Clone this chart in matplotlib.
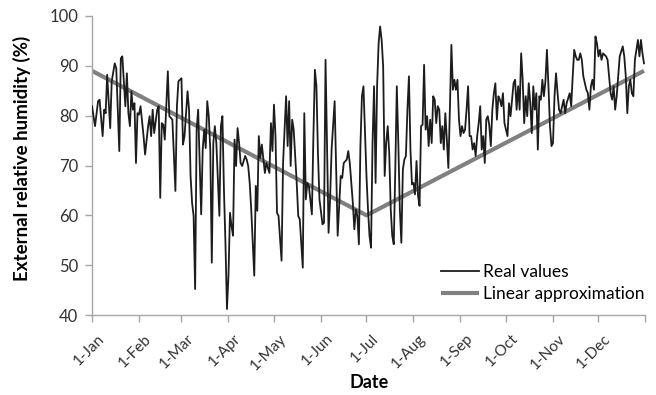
import datetime as dt

import matplotlib
matplotlib.use("Agg")
import matplotlib.pyplot as plt
from matplotlib.transforms import ScaledTranslation

plt.rcParams["font.family"] = ["Lato", "DejaVu Sans"]

# ---- data -------------------------------------------------------------
year_start = dt.date(2010, 1, 1)

# day of the year (0 = 1 January) of each reading
day_of_year = [
    0, 2, 4, 5, 7, 8, 9, 10, 12, 13, 15, 16, 17, 18, 19, 20, 22, 23, 24, 25,
    26, 27, 28, 29, 30, 31, 32, 34, 35, 37, 38, 39, 40, 41, 43, 44, 45, 46, 47, 48,
    50, 51, 53, 55, 56, 57,
    58, 59, 60, 61, 63, 64, 65, 66, 67, 68, 69, 70, 72, 73, 74, 75, 76, 77, 78, 79,
    80, 81, 82, 84, 85, 86, 87, 88, 89, 90, 91, 92, 93, 94, 95, 96, 97, 98, 99, 101,
    102, 103, 104, 105, 107, 108, 109, 110,
    111, 112, 114, 115, 117, 118, 119, 120, 121, 122, 123, 125, 126, 128, 129, 130,
    131, 132, 133, 134, 135, 136, 137, 139, 140, 141, 142, 143, 145, 146, 147, 148,
    149, 150, 152, 153, 154, 156, 157, 158, 160, 162, 163, 164, 165, 166, 168, 169,
    170, 172, 173, 174, 175, 176,
    177, 178, 179, 181, 182, 183, 184, 185, 186, 187, 188, 189, 190, 191, 192, 193,
    194, 195, 196, 197, 198, 199, 200, 201, 202, 203, 204, 205, 206, 207, 208, 209,
    210, 211, 212, 213, 214, 215, 216, 217, 218, 219, 220, 221, 222, 223, 224, 225,
    226, 227, 228,
    229, 230, 231, 232, 233, 234, 235, 236, 237, 238, 239, 240, 241, 242, 243, 244,
    245, 246, 247, 248, 249, 250, 251, 252, 253, 254, 255, 256, 257, 258, 259, 260,
    261, 262, 263, 264, 265, 266, 267, 268, 269, 270, 271, 272, 273, 274, 275, 276,
    277, 278, 279, 280, 281, 282, 283, 284, 285, 286, 287,
    288, 289, 290, 291, 292, 293, 294, 295, 296, 297, 298, 299, 300, 301, 302, 303,
    304, 305, 306, 307, 308, 309, 310, 311, 312, 313, 315, 316, 317, 318, 319, 320,
    321, 322, 323, 324, 326, 327, 328, 329, 330, 331, 332, 333, 334, 335, 336, 337,
    339, 340, 341, 342, 343, 344, 345, 346, 347, 348, 350, 351, 352, 353, 354, 355,
    356, 357, 358, 360, 361, 362, 363, 364,
]

# measured external relative humidity (%)
humidity = [
    81.9, 77.9, 82.9, 83.2, 75.9, 81.2, 80.5, 88.2, 77.5, 86.9, 90.5, 89.5, 81.2, 72.9, 91.5, 91.9, 81.9, 88.5, 80.5, 77.9,
    84.9, 81.2, 82.5, 70.5, 80.5, 80.2, 81.9, 75.9, 72.2, 77.9, 79.9, 75.9, 81.2, 76.5, 81.2, 81.9, 63.5, 78.5, 78.2, 75.2,
    88.9, 79.9, 79.2, 64.9, 81.9, 86.9,
    87.2, 87.5, 74.2, 75.9, 84.9, 81.2, 67.9, 62.5, 59.9, 45.2, 77.2, 81.2, 60.2, 73.2, 77.2, 73.5, 82.9, 79.9, 73.2, 50.5,
    74.5, 77.9, 74.5, 59.9, 77.9, 79.9, 65.2, 54.5, 41.2, 47.9, 60.5, 57.9, 55.9, 75.2, 69.9, 77.5, 74.5, 70.5, 69.9, 71.9,
    71.2, 69.9, 66.5, 61.2, 47.9, 65.9, 60.9, 75.9,
    71.5, 74.2, 68.5, 70.5, 68.5, 78.5, 72.9, 82.2, 75.9, 60.5, 59.9, 50.9, 70.5, 83.9, 73.9, 82.9,
    69.9, 79.2, 77.2, 71.9, 66.5, 59.9, 59.2, 49.5, 80.5, 63.2, 66.5, 65.9, 60.2, 75.9, 89.2, 85.9,
    72.5, 63.2, 58.2, 58.5, 91.2, 56.5, 63.2, 73.2, 82.9, 55.9, 61.9, 67.9, 67.5, 70.5, 71.2, 72.9,
    70.5, 62.5, 57.2, 61.2, 59.9, 54.2,
    73.9, 83.9, 85.9, 67.9, 61.2, 55.9, 53.5, 74.5, 85.9, 66.5, 85.9, 94.5, 97.9, 95.2, 89.9, 67.9,
    74.5, 77.9, 72.5, 61.2, 55.9, 54.2, 69.2, 85.9, 74.5, 61.2, 54.5, 69.2, 71.2, 71.9, 81.2, 87.9,
    73.2, 66.2, 66.5, 64.2, 70.9, 63.9, 61.9, 77.9, 78.2, 90.2, 77.2, 79.9, 73.9, 79.2, 74.5, 83.9,
    83.2, 78.5, 81.9,
    81.2, 74.5, 77.9, 73.2, 80.5, 75.2, 69.5, 81.2, 94.2, 85.2, 87.2, 85.2, 87.2, 79.2, 75.9, 77.9,
    76.5, 77.2, 81.2, 85.9, 75.9, 75.9, 73.2, 74.5, 71.9, 75.9, 78.5, 81.9, 73.2, 75.9, 70.5, 79.2,
    79.9, 78.0, 73.9, 81.2, 84.5, 86.5, 79.2, 83.9, 83.2, 81.9, 84.5, 78.5, 77.2, 75.9, 82.5, 79.9,
    83.2, 86.5, 87.2, 81.2, 85.9, 81.2, 92.5, 87.2, 78.5, 83.9, 79.9,
    86.5, 82.5, 76.5, 85.9, 81.2, 84.5, 73.2, 83.9, 83.2, 87.2, 83.9, 86.9, 93.2, 85.9, 77.9, 73.9,
    74.5, 83.9, 88.5, 84.5, 81.2, 80.5, 81.9, 83.2, 80.5, 82.5, 84.5, 81.9, 87.9, 93.2, 91.9, 91.2,
    91.2, 92.5, 91.2, 87.9, 85.2, 84.5, 81.2, 85.9, 87.2, 85.2, 95.9, 94.5, 91.9, 93.2, 91.2, 92.5,
    91.9, 91.2, 87.9, 84.5, 83.2, 85.9, 81.2, 83.9, 87.9, 91.9, 93.9, 91.9, 87.9, 80.5, 85.9, 87.2,
    84.5, 83.9, 91.2, 95.2, 91.9, 95.2, 92.5, 90.5,
]

# two-segment linear approximation
trend_days = [0, 181, 364]
trend_values = [89, 60, 89]

month_labels = ["1-Jan", "1-Feb", "1-Mar", "1-Apr", "1-May", "1-Jun",
                "1-Jul", "1-Aug", "1-Sep", "1-Oct", "1-Nov", "1-Dec"]

# ---- figure -----------------------------------------------------------
W, H = 656, 395
fig = plt.figure(figsize=(W / 100, H / 100), dpi=100)
ax = fig.add_axes([92 / W, 1 - 315 / H, (645.5 - 92) / W, (315 - 16) / H])

dates = [year_start + dt.timedelta(days=d) for d in day_of_year]
trend_dates = [year_start + dt.timedelta(days=d) for d in trend_days]

ax.plot(trend_dates, trend_values, color="#808080", lw=3.0,
        solid_capstyle="butt", label="Linear approximation", zorder=2)
ax.plot(dates, humidity, color="#1c1c1c", lw=1.3, label="Real values", zorder=3)

month_starts = [dt.date(2010, m, 1) for m in range(1, 13)] + [dt.date(2011, 1, 1)]
ax.set_xlim(month_starts[0], month_starts[-1])
ax.set_xticks(month_starts)
ax.set_xticklabels([])

# slanted date labels, each ending just to the right of its tick
label_offset = ScaledTranslation(3.5 / 72, -12 / 72, fig.dpi_scale_trans)
for day, text in zip(month_starts, month_labels):
    ax.text(day, 0, text, transform=ax.get_xaxis_transform() + label_offset,
            rotation=45, rotation_mode="anchor", ha="right", va="top",
            fontsize=11, color="#333333", clip_on=False)

ax.set_ylim(40, 100)
ax.set_yticks(range(40, 101, 10))
ax.tick_params(axis="y", labelsize=12, colors="#333333")

axis_grey = "#a6a6a6"
for side in ("top", "right"):
    ax.spines[side].set_visible(False)
for side in ("left", "bottom"):
    ax.spines[side].set_color(axis_grey)
    ax.spines[side].set_linewidth(1.0)
ax.tick_params(axis="both", direction="out", length=5, width=1, color=axis_grey)
ax.tick_params(axis="y", pad=5)

ax.set_ylabel("External relative humidity (%)", fontsize=13.5, fontweight="bold")
ax.yaxis.label.set_va("center")
ax.yaxis.set_label_coords((22 - 92) / 553.5, (315 - 158) / 299)

ax.set_xlabel("Date", fontsize=13, fontweight="bold")
ax.xaxis.label.set_va("center")
ax.xaxis.set_label_coords(0.5, (315 - 383) / 299)

handles, labels = ax.get_legend_handles_labels()
leg = ax.legend(handles[::-1], labels[::-1], loc="center left",
                bbox_to_anchor=(441 / W, 1 - 283 / H),
                bbox_transform=fig.transFigure, frameon=False, fontsize=12.5,
                handlelength=2.2, handletextpad=0.2, labelspacing=0.3,
                borderpad=0, borderaxespad=0)

fig.savefig("out.png", dpi=100)
